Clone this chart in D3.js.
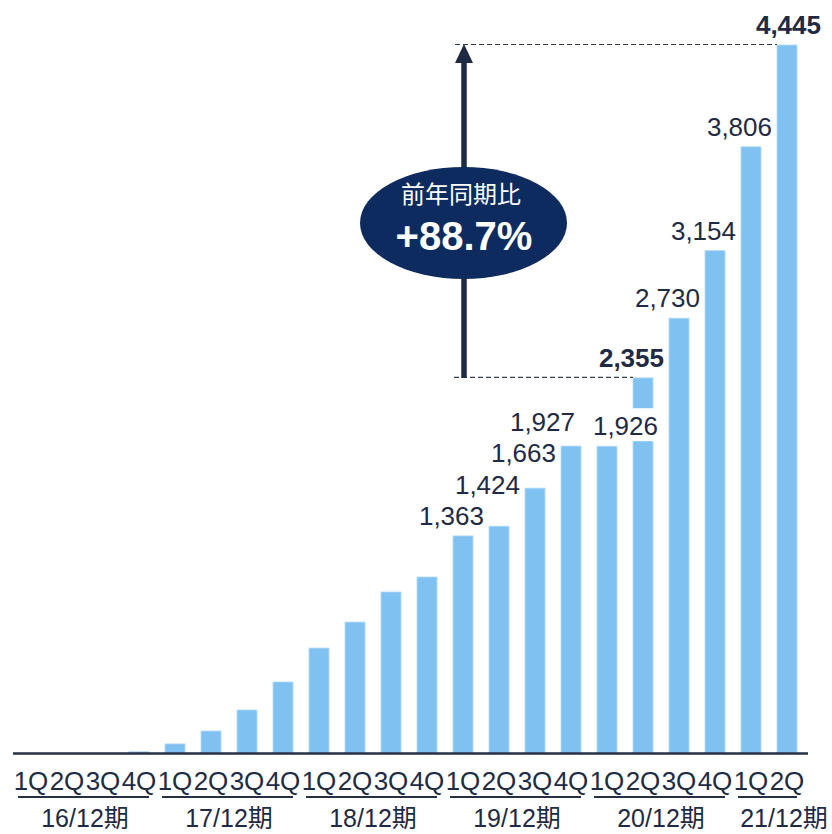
<!DOCTYPE html>
<html>
<head>
<meta charset="utf-8">
<script src="https://cdn.jsdelivr.net/npm/d3@7"></script>
<style>
  html, body { margin: 0; padding: 0; background: #ffffff; }
  svg { display: block; }
  text { font-family: "Liberation Sans", Arial, "Noto Sans CJK JP", sans-serif; }
</style>
</head>
<body>
<svg id="chart" width="832" height="834"></svg>
<script>
// Fiscal periods (each with its quarters) and quarterly values
const periods = ["16/12期", "17/12期", "18/12期", "19/12期", "20/12期", "21/12期"];
const quarterNames = ["1Q", "2Q", "3Q", "4Q"];
const quartersPerPeriod = [4, 4, 4, 4, 4, 2];
const values = [0, 0, 0, 8, 57, 138, 270, 446, 659, 822, 1011, 1105,
                1363, 1424, 1663, 1927, 1926, 2355, 2730, 3154, 3806, 4445];
// Bars that carry a value label, and which of them are emphasised
const labelled = [12, 13, 14, 15, 16, 17, 18, 19, 20, 21];
const emphasised = [17, 21];
// Year-over-year comparison: from index 17 to index 21
const compareFrom = 17, compareTo = 21;
const yoyTitle = "前年同期比";
const yoyValue = "+88.7%";

const ink = "#1f2a44";
const barFill = "#7fc2f2";
const navy = "#0d2b5f";

const svg = d3.select("#chart");

// build the list of bar categories
const cats = [];
periods.forEach((p, pi) => {
  for (let q = 0; q < quartersPerPeriod[pi]; q++) {
    cats.push({ id: p + "-" + quarterNames[q], period: pi, q: quarterNames[q] });
  }
});
cats.forEach((c, i) => c.value = values[i]);

const x = d3.scaleBand()
  .domain(cats.map(c => c.id))
  .range([13, 805])
  .paddingInner(0.444)
  .paddingOuter(0.222);
const y = d3.scaleLinear().domain([0, 4445]).range([753, 45]);
const bw = x.bandwidth();
const cx = i => x(cats[i].id) + bw / 2;

// bars
svg.append("g").selectAll("rect")
  .data(cats)
  .join("rect")
  .attr("x", d => x(d.id))
  .attr("y", d => y(d.value))
  .attr("width", bw)
  .attr("height", d => y(0) - y(d.value))
  .attr("fill", barFill)
  .attr("stroke", "#b3dbf8")
  .attr("stroke-width", 0.8);

// baseline
svg.append("line")
  .attr("x1", 13).attr("x2", 808)
  .attr("y1", y(0) + 0.5).attr("y2", y(0) + 0.5)
  .attr("stroke", "#262f44").attr("stroke-width", 2.5);

// quarter tick labels via axis
const axis = d3.axisBottom(x).tickSize(0).tickPadding(0)
  .tickFormat(id => id.split("-")[1]);
const gx = svg.append("g").attr("transform", `translate(0,${y(0)})`).call(axis);
gx.select(".domain").remove();
gx.selectAll("text")
  .attr("dy", null)
  .attr("y", 37)
  .attr("fill", ink)
  .style("font-size", "26px")
  .style("font-family", '"Liberation Sans", Arial, sans-serif');

// period underlines and names
const periodNudge = { 5: 15 };
periods.forEach((p, pi) => {
  const idx = cats.map((c, i) => i).filter(i => cats[i].period === pi);
  const first = cx(idx[0]), last = cx(idx[idx.length - 1]);
  svg.append("line")
    .attr("x1", first - 13).attr("x2", last + 10)
    .attr("y1", 797).attr("y2", 797)
    .attr("stroke", "#262f44").attr("stroke-width", 2);
  svg.append("text")
    .attr("x", (first + last) / 2 + (periodNudge[pi] || 0))
    .attr("y", 827)
    .attr("text-anchor", "middle")
    .attr("fill", ink)
    .style("font-size", "25px")
    .text(p);
});

// comparison guides: dashed levels and arrow
const arrowX = cx(12);
const guides = svg.append("g");
guides.append("line")
  .attr("x1", arrowX - 8).attr("x2", x(cats[compareTo].id))
  .attr("y1", y(values[compareTo]) - 0.5).attr("y2", y(values[compareTo]) - 0.5)
  .attr("stroke", "#333a4a").attr("stroke-width", 1.2)
  .attr("stroke-dasharray", "5,3");
guides.append("line")
  .attr("x1", arrowX - 9).attr("x2", x(cats[compareFrom].id))
  .attr("y1", y(values[compareFrom]) - 0.5).attr("y2", y(values[compareFrom]) - 0.5)
  .attr("stroke", "#333a4a").attr("stroke-width", 1.2)
  .attr("stroke-dasharray", "5,3");

const tipY = y(values[compareTo]) - 1;
guides.append("line")
  .attr("x1", arrowX + 1).attr("x2", arrowX + 1)
  .attr("y1", y(values[compareFrom])).attr("y2", tipY + 16)
  .attr("stroke", ink).attr("stroke-width", 5.5);
guides.append("path")
  .attr("d", `M${arrowX + 1},${tipY} L${arrowX + 10},${tipY + 19} L${arrowX - 8},${tipY + 19} Z`)
  .attr("fill", ink);

// callout bubble
const bubbleY = 223;
guides.append("ellipse")
  .attr("cx", arrowX + 0.5).attr("cy", bubbleY)
  .attr("rx", 103.5).attr("ry", 56)
  .attr("fill", navy);
guides.append("text")
  .attr("x", arrowX - 2).attr("y", bubbleY - 20)
  .attr("text-anchor", "middle")
  .attr("fill", "#ffffff")
  .style("font-size", "24px")
  .style("font-family", '"Noto Sans CJK JP", sans-serif')
  .text(yoyTitle);
guides.append("text")
  .attr("x", arrowX + 1).attr("y", bubbleY + 27)
  .attr("text-anchor", "middle")
  .attr("fill", "#ffffff")
  .style("font-size", "40px")
  .style("font-weight", "bold")
  .text(yoyValue);

// value labels (right-aligned just past each bar, a few nudged apart)
const labelNudge = { 13: [0, -21], 14: [0, -15], 15: [-17, -4], 16: [30, 0], 21: [13, 0] };
const fmt = d3.format(",");
const labels = svg.append("g");
labelled.forEach(i => {
  const [dx, dy] = labelNudge[i] || [0, 0];
  const g = labels.append("g");
  const t = g.append("text")
    .attr("x", cx(i) + 21 + dx)
    .attr("y", y(values[i]) - 11 + dy)
    .attr("text-anchor", "end")
    .attr("fill", ink)
    .style("font-size", "26px")
    .style("font-weight", emphasised.includes(i) ? "bold" : "normal")
    .text(fmt(values[i]));
  const b = t.node().getBBox();
  g.insert("rect", "text")
    .attr("x", b.x - 2).attr("y", b.y - 3)
    .attr("width", b.width + 4).attr("height", b.height + 3)
    .attr("fill", "#ffffff");
});
</script>
</body>
</html>
